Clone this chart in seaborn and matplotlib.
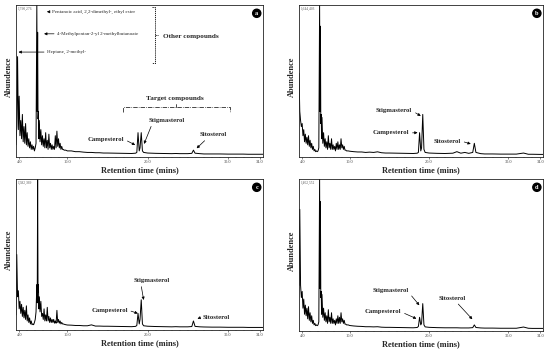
import matplotlib.pyplot as plt
import matplotlib.ticker as mticker
import seaborn as sns
import pandas as pd

# ─── Data (abundance in % of full scale) ──────────────────────────────────────
rt = [3.6, 3.7, 3.8, 3.9, 4.0, 4.1, 4.2, 4.3, 4.4, 4.5,
      4.6, 4.7, 4.8, 4.9, 5.0, 5.1, 5.2, 5.3, 5.4, 5.5,
      5.6, 5.7, 5.8, 5.9, 6.0, 6.1, 6.2, 6.25, 6.3, 6.35,
      6.4, 6.45, 6.5, 6.6, 6.7, 6.8, 6.9, 7.0, 7.1, 7.2,
      7.3, 7.4, 7.5, 7.6, 7.7, 7.8, 7.9, 8.0, 8.1, 8.2,
      8.3, 8.4, 8.5, 8.6, 8.7, 8.8, 8.9, 9.0, 9.1, 9.2,
      9.3, 9.4, 9.5, 9.6, 9.8, 10.0, 10.5, 11.0, 11.5, 12.0,
      12.5, 13.0, 13.5, 14.0, 14.5, 15.0, 16.0, 17.0, 18.0, 18.5,
      18.65, 18.8, 18.95, 19.05, 19.2, 19.35, 19.5, 20.0, 21.0, 22.0,
      23.0, 23.5, 24.0, 24.5, 25.0, 25.5, 25.7, 25.9, 26.5, 27.0,
      28.0, 29.0, 30.0, 31.0, 31.9, 32.5, 33.0, 34.0, 34.4]

abund_a = [8, 20, 66, 18, 40, 14, 24, 12, 28, 10,
           20, 9, 22, 8, 16, 7, 12, 6, 10, 5,
           8, 5, 7, 4, 6, 9, 100, 30, 82, 25,
           30, 12, 24, 10, 18, 8, 14, 7, 12, 6,
           16, 6, 11, 5, 15, 6, 9, 5, 8, 5,
           7, 5, 14, 6, 17, 7, 12, 6, 9, 5,
           7, 5, 5, 4.5, 4.5, 4, 4, 3.5, 3.5, 3.2,
           3, 3, 2.8, 2.8, 2.6, 2.6, 2.5, 2.4, 2.3, 2.5,
           3, 16, 4, 6, 16, 4, 3, 2.6, 2.4, 2.3,
           2.2, 2.3, 2.2, 2.2, 2.2, 2.4, 4.5, 2.5, 2.2, 2,
           2, 2, 1.9, 1.9, 1.9, 1.8, 1.8, 1.8, 1.8]

abund_b = [55, 30, 24, 20, 22, 14, 18, 10, 15, 9,
           13, 8, 14, 7, 11, 6, 9, 5, 7, 4,
           5, 3.5, 4, 3.5, 4, 6, 100, 30, 86, 22,
           28, 12, 26, 9, 16, 7, 12, 6, 10, 5,
           14, 6, 9, 5, 12, 5, 8, 5, 7, 4,
           9, 5, 10, 5, 8, 5, 12, 6, 8, 5,
           7, 4.5, 4.5, 4, 4, 3.8, 3.5, 3.3, 3.3, 3,
           3.2, 3, 3.4, 2.8, 2.6, 2.6, 2.5, 2.4, 2.3, 2.5,
           3, 16, 4, 6, 28, 5, 3, 2.6, 2.4, 2.3,
           2.5, 3.5, 2.5, 3, 2.4, 3, 9, 3, 2.2, 2,
           2, 1.9, 1.9, 1.9, 2.6, 1.8, 1.8, 1.7, 1.7]

abund_c = [10, 50, 22, 26, 14, 19, 11, 17, 9, 15,
           8, 13, 7, 16, 6, 10, 5, 8, 4, 6,
           3.5, 4, 3.5, 5, 7, 12, 30, 18, 100, 25,
           30, 14, 22, 12, 19, 9, 11, 7, 14, 6,
           10, 6, 15, 6, 9, 5, 8, 5, 7, 5,
           7, 4.5, 6, 4.5, 13, 5, 7, 4.5, 6, 4,
           5, 4, 4, 3.8, 3.5, 3.3, 3.2, 3, 3, 2.8,
           2.8, 3.4, 2.6, 2.6, 2.5, 2.5, 2.4, 2.3, 2.2, 2.4,
           3, 11, 4, 7, 20, 4, 2.8, 2.5, 2.3, 2.2,
           2.1, 2.2, 2.1, 2.1, 2.1, 2.3, 6, 2.4, 2.1, 2,
           1.9, 1.9, 1.8, 1.8, 1.8, 1.7, 1.7, 1.7, 1.7]

abund_d = [30, 80, 30, 22, 26, 15, 21, 11, 17, 10,
           15, 8, 16, 7, 12, 6, 10, 5, 7, 4,
           5, 3.5, 4, 3.5, 4, 6, 100, 28, 85, 22,
           26, 11, 24, 9, 15, 7, 12, 6, 10, 5,
           14, 6, 9, 5, 12, 5, 8, 5, 7, 4,
           8, 5, 10, 5, 9, 5, 12, 6, 8, 5,
           7, 4.5, 4.5, 4, 4, 3.6, 3.3, 3.1, 3, 2.8,
           2.8, 2.7, 2.8, 2.5, 2.4, 2.4, 2.3, 2.2, 2.1, 2.3,
           3, 9, 4, 5, 18, 4, 2.7, 2.4, 2.2, 2.1,
           2.1, 2.1, 2, 2, 2, 2.2, 4, 2.3, 2, 1.9,
           1.9, 1.8, 1.8, 1.8, 2.6, 1.8, 1.7, 1.7, 1.7]

panel_ids = ['a', 'b', 'c', 'd']
full_scale = ['1,790,276', '1,644,403', '1,582,369', '1,462,552']
tick_vals = [4.0, 10.0, 20.0, 30.0, 34.0]
tick_labels = ['4.0', '10.0', '20.0', '30.0', '34.0']

# ─── Style ────────────────────────────────────────────────────────────────────
sns.set_theme(style='white')
plt.rcParams['font.family'] = ['Liberation Serif', 'DejaVu Serif']

fig = plt.figure(figsize=(5.5, 3.52), dpi=100)
boxes = {'a': [0.029, 0.554, 0.449, 0.432],
         'b': [0.5436, 0.554, 0.4436, 0.432],
         'c': [0.029, 0.0625, 0.449, 0.429],
         'd': [0.5436, 0.0597, 0.4436, 0.432]}

# compound name, text position (rt, %), arrow tip (rt, %), relpos on text
labels = {
    'a': [('Campesterol', (14.8, 11.6), (18.45, 7.9), (1, 0.5)),
          ('Stigmasterol', (22.4, 23.9), (19.55, 8.6), (0.1, 0)),
          ('Sitosterol', (28.2, 14.5), (26.1, 5.7), (0.3, 0))],
    'b': [('Stigmasterol', (15.6, 30.3), (18.95, 27.0), (1, 0.5)),
          ('Campesterol', (15.2, 15.8), (18.55, 16.0), (1, 0.5)),
          ('Sitosterol', (22.3, 10.5), (25.25, 8.6), (1, 0.5))],
    'c': [('Stigmasterol', (20.5, 32.5), (19.5, 19.9), (0.2, 0)),
          ('Campesterol', (15.25, 13.2), (18.78, 11.0), (1, 0.5)),
          ('Sitosterol', (28.5, 8.6), (26.2, 7.5), (0, 0.5))],
    'd': [('Stigmasterol', (15.1, 26.3), (18.77, 16.9), (1, 0.3)),
          ('Campesterol', (14.2, 12.5), (18.4, 8.1), (1, 0.5)),
          ('Sitosterol', (22.95, 21.5), (25.45, 7.7), (0.6, 0))],
}

traces = {'a': abund_a, 'b': abund_b, 'c': abund_c, 'd': abund_d}
arrow = dict(arrowstyle='-|>', color='black', lw=0.5, mutation_scale=4,
             shrinkA=0, shrinkB=0)

for pid, fs in zip(panel_ids, full_scale):
    ax = fig.add_axes(boxes[pid])
    df = pd.DataFrame({'rt': rt, 'abundance': traces[pid]})
    sns.lineplot(data=df, x='rt', y='abundance', ax=ax, color='black',
                 lw=0.7, sort=False, estimator=None)
    ax.set_xlim(3.6, 34.35)
    ax.set_ylim(0, 100)
    ax.set_yticks([])
    ax.set_xticks(tick_vals)
    ax.set_xticklabels(tick_labels)
    ax.xaxis.set_minor_locator(mticker.MultipleLocator(1))
    ax.tick_params(axis='x', which='major', direction='out', length=1.5,
                   width=0.4, pad=1, labelsize=3.2, labelcolor='#444444',
                   bottom=True)
    ax.tick_params(axis='x', which='minor', direction='out', length=0.8,
                   width=0.3, bottom=True)
    for s in ax.spines.values():
        s.set_color('#222222')
        s.set_linewidth(0.6)
    ax.set_xlabel('Retention time (mins)', fontsize=6, fontweight='bold',
                  labelpad=1.5)
    ax.set_ylabel('Abundence', fontsize=6, fontweight='bold')
    ax.yaxis.set_label_coords(-0.014, 0.53)

    ax.text(0.006, 0.99, fs, transform=ax.transAxes, fontsize=2.6,
            ha='left', va='top', color='#555555')
    ax.text(0.975, 0.945, pid, transform=ax.transAxes, ha='center',
            va='center', color='white', fontsize=4.5, fontweight='bold',
            bbox=dict(boxstyle='circle,pad=0.25', fc='black', ec='black'))

    for name, txt, tip, rel in labels[pid]:
        ap = dict(arrow, relpos=rel)
        ax.annotate(name, xy=tip, xytext=txt, ha='center', va='center',
                    fontsize=4.8, fontweight='bold', arrowprops=ap)

    if pid == 'a':
        small = [('Pentanoic acid, 2,2-dimethyl-, ethyl ester', (8.1, 95.5), (7.45, 95.5)),
                 ('4-Methylpentan-2-yl 2-methylbutanoate', (8.75, 81.0), (7.1, 81.0)),
                 ('Heptane, 2-methyl-', (7.5, 69.0), (3.92, 69.0))]
        for name, txt, tip in small:
            ax.annotate(name, xy=tip, xytext=txt, ha='left', va='center',
                        fontsize=3.6, arrowprops=dict(arrow, relpos=(0, 0.5)))
        # "other compounds" bracket
        ax.plot([20.5, 20.93, 20.93, 20.5], [98.9, 98.9, 61.8, 61.8],
                color='black', lw=0.6, ls=(0, (1.5, 1)))
        ax.plot([20.93, 21.3], [80, 80], color='black', lw=0.6, ls=(0, (1.5, 1)))
        ax.text(25.4, 79, 'Other compounds', fontsize=5.2, fontweight='bold',
                ha='center', va='center')
        # "target compounds" bracket
        ax.plot([16.98, 16.98, 30.2, 30.2], [29.8, 32.7, 32.7, 29.8],
                color='black', lw=0.5, ls='-.')
        ax.plot([23.55, 23.55], [32.7, 35.0], color='black', lw=0.5)
        ax.text(23.4, 38.6, 'Target compounds', fontsize=5.2,
                fontweight='bold', ha='center', va='center')

fig.savefig('out.png', dpi=100)
